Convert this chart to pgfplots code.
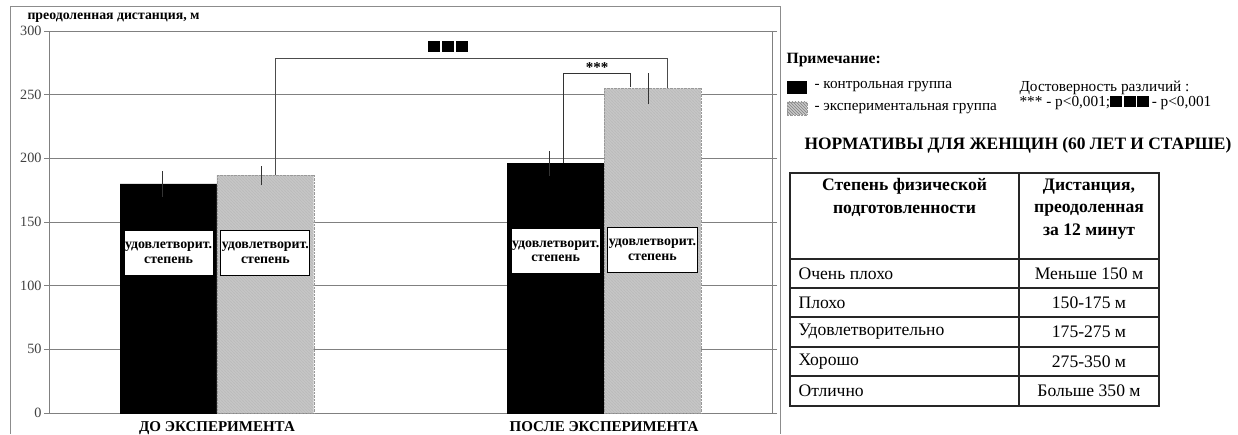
\documentclass[border=0pt]{standalone}
\usepackage{pgfplots}
\pgfplotsset{compat=1.18}
\usepackage{fontspec}
\setmainfont{Liberation Serif}
\usetikzlibrary{patterns}

\definecolor{framegray}{gray}{0.55}
\definecolor{gridgray}{gray}{0.5}

\newcommand{\fs}[1]{\fontsize{#1}{#1}\selectfont}

\begin{document}
\begin{tikzpicture}[x=1pt,y=1pt,
  levelbox/.style={draw=black, line width=1pt, fill=white, minimum width=89pt, minimum height=45pt,
     align=center, inner sep=1pt, font=\bfseries\fontsize{13.9}{14.5}\selectfont},
  hatchfill/.style={fill=gray!42, postaction={pattern=north west lines, pattern color=black!50}}]
\useasboundingbox (0,0) rectangle (1238,434);

% outer chart frame
\draw[framegray, line width=1pt] (10,0) -- (10,427) -- (780,427) -- (780,0);

% axis title
\node[anchor=west, font=\bfseries\fs{13.8}] at (24,416) {преодоленная дистанция, м};

\begin{axis}[
  at={(49pt,21pt)}, anchor=south west,
  scale only axis, width=723pt, height=382pt,
  xmin=-0.434, xmax=1.434, ymin=0, ymax=300,
  ytick={0,50,...,300},
  xtick={0,1},
  xticklabels={ДО ЭКСПЕРИМЕНТА, ПОСЛЕ ЭКСПЕРИМЕНТА},
  ymajorgrids, grid style={gridgray, line width=0.9pt},
  axis line style={gridgray, line width=0.9pt},
  xtick style={draw=none},
  ytick style={gridgray, line width=0.9pt},
  tick align=outside, major tick length=5pt,
  /pgf/number format/assume math mode=true,
  y tick label style={font=\fs{14.2}, text=black!75, xshift=1pt},
  x tick label style={font=\bfseries\fs{15}, yshift=0pt},
  clip=false,
]
% control group
\addplot[ybar, bar width=0.25, bar shift=-0.125, fill=black, draw=black]
  coordinates {(0,180) (1,196)};
% experimental group
\addplot[ybar, bar width=0.25, bar shift=0.125, hatchfill, draw=gray!80, densely dotted]
  coordinates {(0,186.8) (1,255)};
% error bars
\addplot[draw=none, mark=none, forget plot,
  error bars/.cd, y dir=both, y explicit, error mark=none,
  error bar style={draw=black!80, solid, line width=0.9pt}]
  coordinates {(-0.14,180) +- (0,10) (0.115,186.8) +- (0,7.5)
               (0.86,196) +- (0,10) (1.115,255) +- (0,12)};

% level labels inside bars
\node[levelbox] at (axis cs:-0.125,126) {удовлетворит.\\степень};
\node[levelbox] at (axis cs:0.125,126) {удовлетворит.\\степень};
\node[levelbox] at (axis cs:0.875,127) {удовлетворит.\\степень};
\node[levelbox] at (axis cs:1.125,128) {удовлетворит.\\степень};

% significance brackets
\addplot[black!70, line width=0.9pt, mark=none, forget plot]
  coordinates {(0.152,186.8) (0.152,278.6) (1.165,278.6) (1.165,255)};
\addplot[black!80, line width=0.9pt, mark=none, forget plot]
  coordinates {(0.894,196) (0.894,266.9) (1.067,266.9) (1.067,255.9)};
\node[font=\bfseries\fs{15}] at (axis cs:0.982,271.5) {***};
\node[inner sep=0pt] at (axis cs:0.597,287.5)
  {\rule{12pt}{11pt}\hspace{2pt}\rule{12pt}{11pt}\hspace{2pt}\rule{12pt}{11pt}};
\end{axis}

% note and legend
\node[anchor=west, font=\bfseries\fs{15.7}] at (783,374) {Примечание:};
\fill[black] (787,340) rectangle (807,353);
\node[anchor=west, font=\fs{15.2}] at (811,347) {- контрольная группа};
\path[hatchfill] (787,319) rectangle (807,332);
\draw[gray!80, densely dotted] (787,319) rectangle (807,332);
\node[anchor=west, font=\fs{15.2}] at (811,325) {- экспериментальная группа};
\node[anchor=west, font=\fs{15.3}] at (1016,346) {Достоверность различий :};
\node[anchor=west, font=\fs{15.3}] at (1016,331)
  {*** - p<0,001;\rule{12pt}{11pt}\hspace{1.5pt}\rule{12pt}{11pt}\hspace{1.5pt}\rule{12pt}{11pt}\,- p<0,001};

% standards table
\node[font=\bfseries\fs{17.4}] at (1018,289) {НОРМАТИВЫ ДЛЯ ЖЕНЩИН (60 ЛЕТ И СТАРШЕ)};
\draw[black!85, line width=1.1pt] (790,28) rectangle (1159,261);
\draw[black!85, line width=1.1pt] (1019,28) -- (1019,261);
\foreach \yy in {175,146,117,87,58}{
  \draw[black!85, line width=1.1pt] (790,\yy) -- (1159,\yy);
}
\node[anchor=north, align=center, font=\bfseries\fontsize{17.6}{22.5}\selectfont] at (904.5,259)
  {Степень физической\\подготовленности};
\node[anchor=north, align=center, font=\bfseries\fontsize{17.6}{22.5}\selectfont] at (1089,259)
  {Дистанция,\\преодоленная\\за 12 минут};
\foreach \yy/\aa/\bb in {160.5/Очень плохо/Меньше 150 м, 131.5/Плохо/150-175 м,
    102/Удовлетворительно/175-275 м, 72.5/Хорошо/275-350 м, 43/Отлично/Больше 350 м}{
  \node[anchor=west, font=\fs{17.6}] at (795,\yy) {\aa};
  \node[font=\fs{17.6}] at (1089,\yy) {\bb};
}
\end{tikzpicture}
\end{document}
